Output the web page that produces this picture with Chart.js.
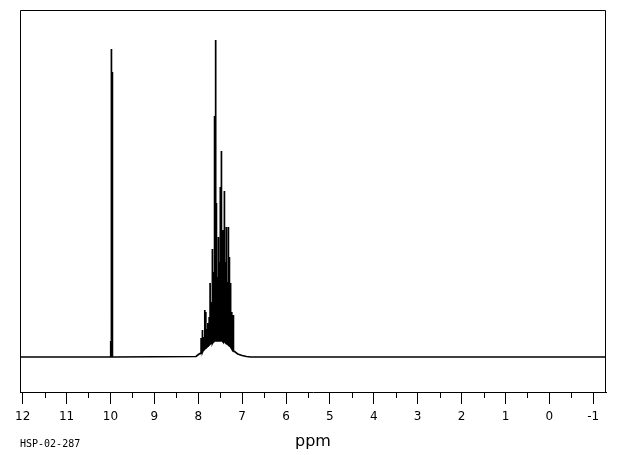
<!DOCTYPE html>
<html>
<head>
<meta charset="utf-8">
<script src="https://cdn.jsdelivr.net/npm/chart.js@4.4.1/dist/chart.umd.min.js"></script>
<style>
  html, body { margin: 0; padding: 0; background: #fff; }
  canvas { display: block; }
</style>
</head>
<body>
<canvas id="nmr" width="620" height="455"></canvas>
<script>
// axis range (ppm), left edge is the high value
const axisMax = 12.06;
const axisMin = -1.29;
const majorTicks = [12, 11, 10, 9, 8, 7, 6, 5, 4, 3, 2, 1, 0, -1];
const minorTicks = [11.5, 10.5, 9.5, 8.5, 7.5, 6.5, 5.5, 4.5, 3.5, 2.5, 1.5, 0.5, -0.5];

// slow hump under the aromatic multiplet
const envelopePpm   = [12.06, 10.05, 9.90, 8.05, 7.98, 7.90, 7.80, 7.70, 7.60, 7.50, 7.40, 7.30, 7.20, 7.10, 7.00, 6.90, 6.80, -1.29];
const envelopeLevel = [0, 0, 0, 0.5, 3, 6, 10, 14, 16, 16, 15, 12, 7, 3, 1.5, 0.5, 0, 0];

// peak lines: position, foot level, top
const peakPpm = [
  9.993, 9.977, 9.961, 9.945,
  7.934, 7.910, 7.895, 7.870, 7.850, 7.827, 7.800, 7.780, 7.750, 7.729,
  7.700, 7.683, 7.667, 7.650, 7.631, 7.622, 7.608, 7.595, 7.585, 7.560,
  7.540, 7.520, 7.494, 7.471, 7.450, 7.433, 7.410, 7.394, 7.375, 7.358,
  7.335, 7.312, 7.295, 7.280, 7.262, 7.235, 7.220, 7.205, 7.185
];
const peakBase = [
  0, 0, 0, 0,
  4, 5, 6, 7, 8, 9, 10, 11, 12, 13,
  14, 14, 15, 15, 16, 16, 16, 16, 16, 16,
  16, 16, 16, 16, 16, 15, 15, 15, 14, 14,
  13, 12, 12, 11, 10, 8, 7, 7, 6
];
const peakHeight = [
  16, 308, 285, 7,
  19, 16, 27, 20, 47, 45, 28, 34, 40, 74,
  55, 92, 108, 85, 200, 241, 317, 110, 154, 80,
  120, 95, 170, 206, 85, 127, 80, 166, 95, 130,
  75, 130, 70, 100, 74, 45, 35, 42, 20
];

const points = [];
envelopePpm.forEach((p, i) => points.push({ x: p, y: envelopeLevel[i] }));
peakPpm.forEach((p, i) => {
  points.push({ x: p, y: peakBase[i] });
  points.push({ x: p, y: peakHeight[i] });
  points.push({ x: p, y: peakBase[i] });
});
points.sort((a, b) => a.x - b.x);

const framePlugin = {
  id: 'frame',
  afterDraw(chart) {
    const { ctx, chartArea: a } = chart;
    const xs = chart.scales.x;
    const l = Math.round(a.left) + 0.5, r = Math.round(a.right) - 0.5;
    const t = Math.round(a.top) + 0.5, b = Math.round(a.bottom);
    ctx.save();
    ctx.strokeStyle = '#000';
    ctx.lineWidth = 1;
    ctx.beginPath();
    ctx.moveTo(l, b); ctx.lineTo(l, t); ctx.lineTo(r, t); ctx.lineTo(r, b);
    minorTicks.forEach(v => {
      const px = Math.round(xs.getPixelForValue(v)) + 0.5;
      ctx.moveTo(px, b);
      ctx.lineTo(px, b + 6);
    });
    ctx.stroke();
    ctx.fillStyle = '#000';
    ctx.font = '10px "DejaVu Sans Mono"';
    ctx.textBaseline = 'middle';
    ctx.fillText('HSP-02-287', 20, 444);
    ctx.restore();
  }
};

Chart.defaults.font.family = '"DejaVu Sans", sans-serif';

new Chart(document.getElementById('nmr'), {
  type: 'line',
  data: {
    datasets: [{
      data: points,
      borderColor: '#000',
      borderWidth: 1.7,
      pointRadius: 0,
      tension: 0,
      fill: false
    }]
  },
  options: {
    responsive: false,
    animation: false,
    layout: { padding: { left: 20, right: 14, top: 10, bottom: 0 } },
    plugins: { legend: { display: false }, tooltip: { enabled: false } },
    scales: {
      x: {
        type: 'linear',
        reverse: true,
        min: axisMin,
        max: axisMax,
        afterBuildTicks: s => { s.ticks = majorTicks.map(v => ({ value: v })); },
        afterFit: s => { s.height = 63; },
        grid: { drawOnChartArea: false, tickLength: 12, color: '#000', tickColor: '#000', tickWidth: 1 },
        border: { display: true, color: '#000', width: 1 },
        ticks: { color: '#000', font: { size: 12 }, padding: 6, autoSkip: false, maxRotation: 0, callback: v => String(v) },
        title: { display: true, text: 'ppm', color: '#000', font: { size: 16 }, padding: { top: 2, bottom: 4 } }
      },
      y: {
        display: false,
        min: -35,
        max: 347
      }
    }
  },
  plugins: [framePlugin]
});
</script>
</body>
</html>
